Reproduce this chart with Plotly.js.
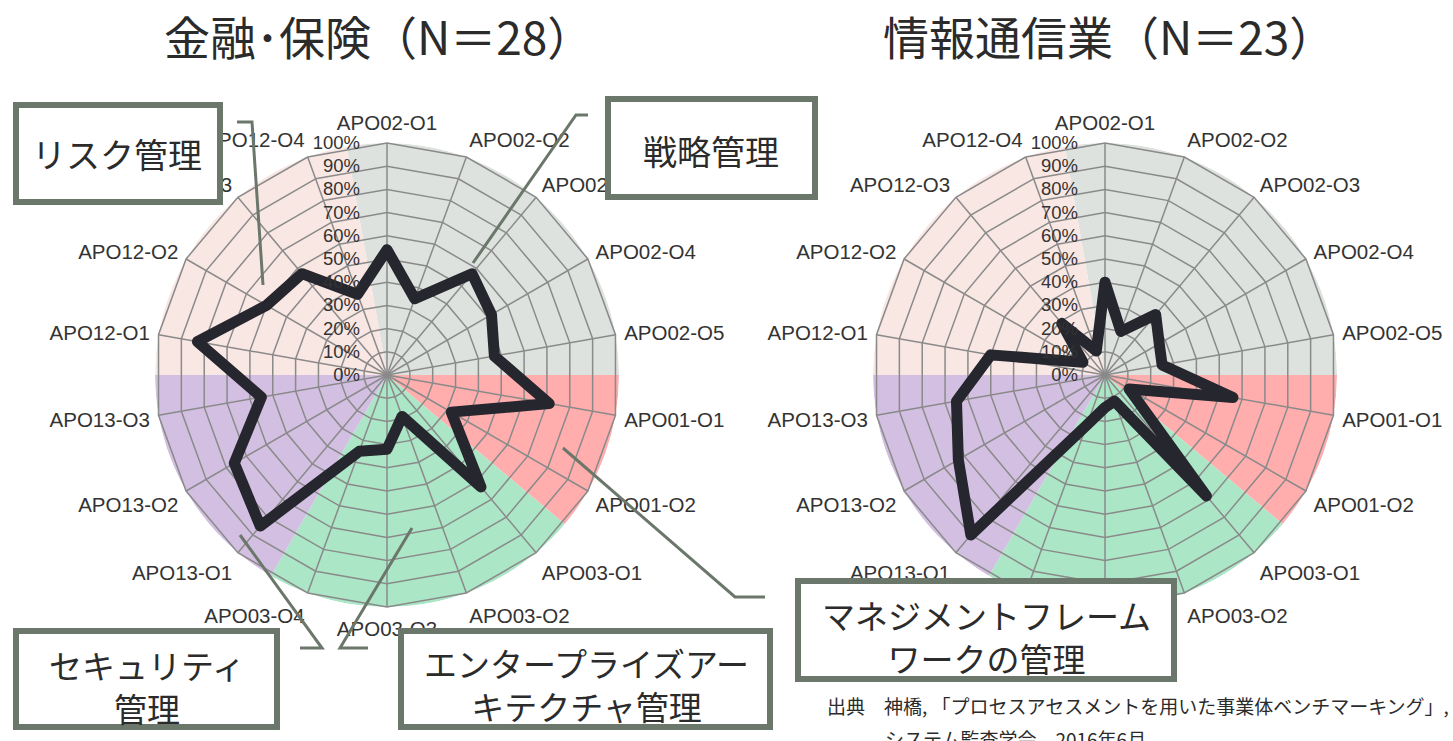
<!DOCTYPE html>
<html>
<head>
<meta charset="utf-8">
<script src="https://cdn.plot.ly/plotly-3.0.1.min.js"></script>
<style>
  html, body { margin: 0; padding: 0; background: #ffffff; }
  #chart { width: 1453px; height: 741px; }
  .js-plotly-plot .polarlayer path.js-line { stroke-linejoin: round; stroke-linecap: round; }
</style>
</head>
<body>
<div id="chart"></div>
<script>
// ---------------- data ----------------
const categories = ['APO02-O1','APO02-O2','APO02-O3','APO02-O4','APO02-O5',
                    'APO01-O1','APO01-O2',
                    'APO03-O1','APO03-O2','APO03-O3','APO03-O4',
                    'APO13-O1','APO13-O2','APO13-O3',
                    'APO12-O1','APO12-O2','APO12-O3','APO12-O4'];

const financeValues = [0.54,0.35,0.57,0.52,0.47,
                       0.71,0.32,
                       0.63,0.19,0.32,0.35,
                       0.85,0.76,0.55,
                       0.83,0.60,0.57,0.37];

const ictValues = [0.40,0.20,0.34,0.27,0.25,
                   0.56,0.12,
                   0.68,0.12,0.14,0.23,
                   0.90,0.73,0.65,
                   0.50,0.11,0.29,0.11];

const sectorGroups = ['APO02','APO01','APO03','APO13','APO12'];
const sectorCounts = [5, 2, 4, 3, 4];
const sectorColors = ['#dee2de','#ffadad','#abe6c6','#d3bfe1','#f9e7e3'];

const radialTickVals = [0,0.1,0.2,0.3,0.4,0.5,0.6,0.7,0.8,0.9,1];
const radialTickText = ['0%','10%','20%','30%','40%','50%','60%','70%','80%','90%','100%'];

const chartTitles = ['金融･保険（N＝28）', '情報通信業（N＝23）'];
const calloutTexts = ['リスク管理', '戦略管理', 'セキュリティ<br>管理',
                      'エンタープライズアー<br>キテクチャ管理', 'マネジメントフレーム<br>ワークの管理'];
const sourceLines = ['出典　神橋, 「プロセスアセスメントを用いた事業体ベンチマーキング」,',
                     'システム監査学会，2016年6月'];

// ---------------- helpers ----------------
const W = 1453, H = 741;
const px = x => x / W;
const py = y => 1 - y / H;
function dom(cx, cy, R) {
  return { x: [(cx - R) / W, (cx + R) / W], y: [1 - (cy + R) / H, 1 - (cy - R) / H] };
}
const step = 360 / categories.length;
// sector centers/widths derived from group sizes (groups start half a step before first category)
const sectorTheta = [], sectorWidth = [];
let startIdx = 0;
sectorCounts.forEach(c => {
  sectorTheta.push((startIdx + c / 2 - 0.5) * step);
  sectorWidth.push(c * step);
  startIdx += c;
});

const LABEL_FONT = 'Liberation Sans, Arial, sans-serif';
const CJK_FONT = 'Noto Sans CJK JP, sans-serif';
const BOX_COLOR = '#6a776a';

function bgTrace(polarId) {
  return {
    type: 'barpolar', subplot: polarId,
    theta: sectorTheta, width: sectorWidth,
    r: sectorCounts.map(() => 1),
    marker: { color: sectorColors, line: { width: 0 } },
    hoverinfo: 'skip', showlegend: false
  };
}
function lineTrace(polarId, values) {
  return {
    type: 'scatterpolar', subplot: polarId, mode: 'lines',
    theta: categories.concat([categories[0]]),
    r: values.concat([values[0]]),
    line: { color: '#26262e', width: 11 },
    hoverinfo: 'skip', showlegend: false
  };
}
function bgPolar(d) {
  return {
    domain: d, bgcolor: 'rgba(0,0,0,0)',
    angularaxis: { type: 'linear', thetaunit: 'degrees', rotation: 90, direction: 'clockwise', visible: false },
    radialaxis: { range: [0, 1], visible: false }
  };
}
function gridPolar(d) {
  return {
    domain: d, bgcolor: 'rgba(0,0,0,0)', gridshape: 'linear',
    angularaxis: {
      type: 'category', categoryorder: 'array', categoryarray: categories,
      rotation: 90, direction: 'clockwise',
      showline: true, linecolor: '#8a8a8a', linewidth: 1.5,
      gridcolor: '#8a8a8a', gridwidth: 1.5,
      ticks: 'outside', ticklen: 4, tickcolor: 'rgba(0,0,0,0)',
      tickfont: { family: LABEL_FONT, size: 20.5, color: '#333333' }
    },
    radialaxis: {
      range: [0, 1], tickvals: radialTickVals, ticktext: radialTickText,
      angle: 90, tickangle: 90,
      side: 'counterclockwise', showline: false,
      ticks: 'outside', ticklen: 20, tickcolor: 'rgba(0,0,0,0)',
      gridcolor: '#8a8a8a', gridwidth: 1.5,
      tickfont: { family: LABEL_FONT, size: 18.5, color: '#333333' }
    }
  };
}

const dLeft = dom(387, 375, 232);
const dRight = dom(1105, 375, 232);

const data = [
  bgTrace('polar'), lineTrace('polar2', financeValues),
  bgTrace('polar3'), lineTrace('polar4', ictValues)
];

function rectShape(x0, y0, x1, y1) {
  return { type: 'rect', xref: 'paper', yref: 'paper', layer: 'above',
           x0: px(x0), x1: px(x1), y0: py(y1), y1: py(y0),
           fillcolor: '#ffffff', line: { color: BOX_COLOR, width: 6 } };
}
function pathShape(pts) {
  const d = pts.map((p, i) => (i ? 'L' : 'M') + px(p[0]).toFixed(5) + ',' + py(p[1]).toFixed(5)).join(' ');
  return { type: 'path', xref: 'paper', yref: 'paper', layer: 'above', path: d,
           line: { color: BOX_COLOR, width: 3 } };
}

const shapes = [
  pathShape([[237,122],[252,122],[263,285]]),
  pathShape([[588,115],[576,115],[473,263]]),
  pathShape([[563,448],[735,597],[765,597]]),
  pathShape([[240,535],[322,648],[300,648]]),
  pathShape([[412,528],[340,648],[368,648]]),
  rectShape(16,105,220,202),
  rectShape(608,99,815,197),
  rectShape(16,631,277,727),
  rectShape(401,631,770,727),
  rectShape(798,581,1174,679)
];

function ann(text, x, y, size, anchor) {
  return { text: text, xref: 'paper', yref: 'paper', x: px(x), y: py(y),
           xanchor: anchor || 'center', yanchor: 'middle', showarrow: false,
           font: { family: CJK_FONT, size: size, color: '#2b2b2b' } };
}

const annotations = [
  ann(chartTitles[0], 378, 35, 46),
  ann(chartTitles[1], 1109, 35, 46),
  ann(calloutTexts[0], 117, 153, 34),
  ann(calloutTexts[1], 711, 150, 34),
  ann(calloutTexts[2], 147, 686, 33),
  ann(calloutTexts[3], 586, 684, 33),
  ann(calloutTexts[4], 986, 636, 33),
  ann(sourceLines[0], 825, 705, 19, 'left'),
  ann(sourceLines[1], 883, 738, 19, 'left')
];

const layout = {
  width: W, height: H,
  margin: { l: 0, r: 0, t: 0, b: 0, pad: 0 },
  paper_bgcolor: '#ffffff',
  showlegend: false,
  polar: bgPolar(dLeft),
  polar2: gridPolar(dLeft),
  polar3: bgPolar(dRight),
  polar4: gridPolar(dRight),
  shapes: shapes,
  annotations: annotations
};

Plotly.newPlot('chart', data, layout, { staticPlot: true, displayModeBar: false });
</script>
</body>
</html>
